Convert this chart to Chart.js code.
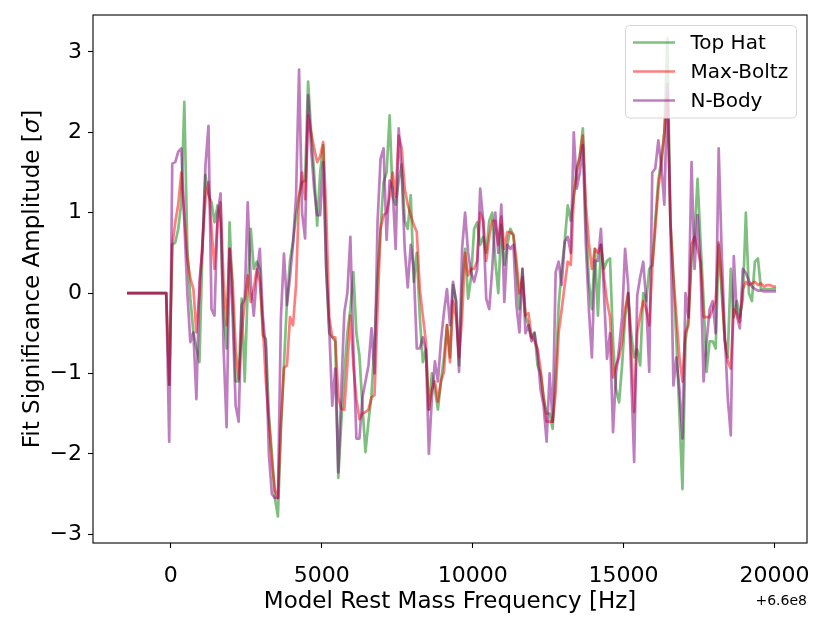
<!DOCTYPE html>
<html>
<head>
<meta charset="utf-8">
<script src="https://cdn.jsdelivr.net/npm/chart.js@4.4.1/dist/chart.umd.min.js"></script>
<style>
  html, body { margin: 0; padding: 0; background: #fff; }
  canvas { display: block; }
</style>
</head>
<body>
<canvas id="myChart" width="830" height="623"></canvas>
<script>
// frequencies are relative to the +6.6e8 Hz offset, one sample every 100 Hz
const FREQ_START = -1450;
const FREQ_STEP = 100;

const topHat = [
  0, 0, 0, 0, 0, 0, 0, 0, 0, 0, 0, 0, 0, 0,
  -1.14, 0.6, 0.63, 0.8, 1.13, 2.38, 0.55, -0.07, -0.49, -0.69,
  -0.86, 0.55, 1.47, 1.22, 1.13, 0.88, 1.09, 0.88, -0.28, -0.69,
  0.88, -0.07, -1.1, -1.1, -0.07, -1.1, 0.05, 0.8, 0.3, 0.39,
  0.3, -0.53, -0.57, -1.5, -2.0, -2.55, -2.78, -1.7, -0.9, -0.1,
  0.4, 0.64, 0.97, 1.2, 1.38, 1.4, 2.63, 2.0, 1.5, 0.84,
  1.5, 1.84, 0.3, -0.5, -0.55, -0.6, -2.3, -1.6, -1.0, -0.5,
  -0.2, 0.26, -0.5, -0.78, -1.4, -1.98, -1.6, -1.27, -0.6, 0.2,
  0.8, 1.38, 1.5, 2.21, 1.2, 1.1, 1.4, 1.6, 0.9, 0.8,
  1.22, 0.14, 0.5, -0.3, -0.86, -0.7, -1.45, -1.0, -1.2, -1.45,
  -1.1, -0.8, -0.4, -0.8, 0.1, -0.1, -0.9, 0.1, 0.55, -0.07,
  0.2, 0.8, 0.88, 0.6, 0.7, 0.5, 0.9, 1.0, 0.4, 0.0,
  0.85, 0.35, 0.6, 0.8, 0.72, 0.3, -0.2, 0.3, -0.28, -0.4,
  -0.55, -0.49, -0.9, -1.0, -1.3, -1.5, -1.5, -1.69, -1.0, -0.15,
  0.3, 0.64, 1.09, 0.9, 1.2, 1.55, 1.7, 2.05, 0.9, 0.14,
  -0.2, 0.55, -0.28, 0.6, 0.3, 0.4, 0.43, -0.6, -1.2, -1.36,
  -0.9, -0.3, 0.0, -0.5, -0.8, -0.7, -0.9, 0.0, -0.1, 0.3,
  0.35, 0.9, 1.4, 1.66, 2.0, 3.17, 0.9, 0.2, -0.61, -1.5,
  -2.44, -0.6, -0.3, 0.4, 0.7, 1.42, 0.63, -0.1, -0.98, -0.6,
  -0.6, -0.69, 0.6, 0.0, -0.57, -0.8, 0.3, -0.3, -0.1, -0.3,
  -0.07, 1.0, 0.0, -0.1, 0.39, 0.43, 0.05, 0.05, 0.05, 0.05,
  0.05, 0.05
];

const maxBoltz = [
  0, 0, 0, 0, 0, 0, 0, 0, 0, 0, 0, 0, 0, 0,
  -1.14, 0.6, 0.88, 1.11, 1.5, 0.97, 0.43, 0.18, 0.05, -0.49,
  0.0, 0.63, 1.17, 1.38, 0.8, 0.3, 0.88, 1.13, 0.14, -0.4,
  0.55, 0.14, -0.69, -1.07, -0.49, -0.11, 0.22, -0.11, 0.05, 0.3,
  0.14, -0.4, -1.1, -1.6, -2.1, -2.45, -2.55, -1.6, -0.93, -0.9,
  -0.3, -0.4, 0.1, 1.2, 1.5, 1.17, 2.21, 2.0, 1.8, 1.63,
  1.7, 1.88, 1.0, -0.3, -0.55, -0.55, -1.3, -1.44, -1.45, -0.9,
  -0.28, -0.9, -1.32, -1.57, -1.5, -1.48, -1.45, -1.3, -1.27, -0.2,
  0.8, 0.97, 1.0, 1.2, 1.5, 1.2, 1.96, 1.8, 1.3, 1.1,
  0.97, 0.85, 0.76, 0.05, -0.28, -0.6, -1.45, -1.2, -1.1, -1.35,
  -1.1, -0.98, -0.4, -0.86, -0.1, -0.3, -0.8, -0.3, 0.5, 0.22,
  0.3, 0.3, 0.4, 1.0, 0.9, 0.4, 0.7, 0.9, 0.9, 0.6,
  0.95, 0.55, 0.76, 0.76, 0.72, 0.4, 0.0, 0.2, -0.28, -0.25,
  -0.55, -0.6, -0.69, -0.95, -1.3, -1.6, -1.6, -1.6, -1.23, -0.49,
  -0.2, 0.1, 0.39, 0.35, 1.2, 1.5, 1.7, 1.96, 1.1, 0.63,
  0.3, 0.55, 0.5, 0.6, 0.2, -0.1, -0.3, -1.05, -0.9, -0.8,
  -0.6, -0.2, 0.0, -0.7, -1.48, -0.5, -0.28, -0.1, -0.2, -0.4,
  0.3, 0.8, 1.3, 1.6, 2.0, 2.5, 0.9, 0.2, -0.3, -0.8,
  -1.1, -0.49, -0.4, 0.6, 0.7, 0.55, 0.38, -0.3, -0.3, -0.3,
  -0.2, -0.1, 0.63, 0.14, -0.6, -0.85, -0.94, -0.2, -0.25, -0.36,
  0.05, 0.14, 0.1, 0.12, 0.14, 0.1, 0.12, 0.08, 0.1, 0.1,
  0.08, 0.08
];

const nBody = [
  0, 0, 0, 0, 0, 0, 0, 0, 0, 0, 0, 0, 0, 0,
  -1.85, 1.61, 1.63, 1.76, 1.8, 0.88, 0.0, -0.61, -0.49, -1.32,
  0.14, 0.55, 1.59, 2.08, -0.2, -0.28, 0.97, 1.24, -0.69, -1.67,
  0.55, -0.28, -1.4, -1.6, -0.15, -0.07, 1.13, 0.14, -0.28, 0.22,
  0.55, -0.28, -0.69, -2.0, -2.5, -2.55, -2.55, -0.3, 0.49, -0.15,
  0.2, 0.61, 1.2, 2.78, 1.0, 0.68, 2.46, 1.8, 1.3, 0.97,
  0.97, 1.63, 0.3, -0.44, -1.4, -0.94, -2.23, -1.2, -0.24, 0.0,
  0.7, -0.69, -1.81, -1.81, -1.3, -1.1, -0.9, -0.44, -1.0, 0.88,
  1.67, 1.8, 0.66, 1.4, 1.3, 0.55, 2.05, 1.5, 0.55, 0.07,
  0.6, 0.3, -0.69, -0.69, -0.55, -0.7, -2.0, -1.3, -0.85, -1.1,
  -0.6, -0.24, 0.05, -0.4, 0.14, -0.1, -0.98, 0.55, 1.0, 0.5,
  0.26, 0.14, 0.3, 1.3, 0.9, -0.07, -0.2, 0.3, 1.0, 0.5,
  1.1, -0.11, 0.6, 0.55, 0.6, -0.15, -0.49, 0.3, -0.5, -0.4,
  -0.6, -0.5, -0.75, -1.2, -1.4, -1.85, -1.0, -1.6, 0.26, 0.39,
  0.1, 0.64, 0.7, 0.5, 2.0, 1.3, 1.5, 1.84, 0.6, -0.2,
  -0.8, 0.4, 0.4, 0.8, 0.0, -0.82, -0.5, -1.73, -1.0, -0.69,
  -0.3, 0.55, 0.1, -1.0, -2.1, -0.03, 0.2, 0.39, -0.1, -0.98,
  1.5, 1.55, 1.9, 1.59, 1.1, 2.6, 0.9, -1.15, -0.8, -1.2,
  -1.81, 0.0, -0.3, 1.63, 0.3, 0.97, 0.3, -1.1, -0.6, -0.2,
  -0.1, -0.5, 1.8, 0.5, -0.5, -1.3, -1.77, 0.46, -0.28, -0.44,
  0.3, 0.25, 0.15, 0.08, 0.05, 0.03, 0.03, 0.02, 0.02, 0.02,
  0.02, 0.02
];

const xTicks = [0, 5000, 10000, 15000, 20000];
const yTicks = [-3, -2, -1, 0, 1, 2, 3];
const seriesNames = ["Top Hat", "Max-Boltz", "N-Body"];
const seriesColors = ["rgba(0, 128, 0, 0.5)", "rgba(255, 0, 0, 0.5)", "rgba(128, 0, 128, 0.5)"];

const freqs = topHat.map((_, i) => FREQ_START + i * FREQ_STEP);
const toPoints = (vals) => vals.map((v, i) => ({ x: freqs[i], y: v }));
const minus = (v) => (v < 0 ? "\u2212" + Math.abs(v) : String(v));

Chart.defaults.font.family = "'DejaVu Sans'";
Chart.defaults.color = "#000";

const FONT = "'DejaVu Sans'";
const LINE_W = 2.7;

// frame, legend box, axis titles and the offset label, matplotlib style
const decorations = {
  id: "decorations",
  afterDatasetsDraw(chart) {
    const { ctx, chartArea: a } = chart;
    ctx.save();
    ctx.strokeStyle = "#000";
    ctx.lineWidth = 1.1;
    ctx.strokeRect(a.left, a.top, a.right - a.left, a.bottom - a.top);

    // legend
    ctx.beginPath();
    ctx.roundRect(625.5, 25.5, 171, 92.5, 4);
    ctx.fillStyle = "rgba(255, 255, 255, 0.8)";
    ctx.fill();
    ctx.strokeStyle = "#d6d6d6";
    ctx.lineWidth = 1;
    ctx.stroke();
    ctx.font = "20px " + FONT;
    ctx.textBaseline = "middle";
    ctx.textAlign = "left";
    seriesNames.forEach((name, i) => {
      const y = 42.5 + i * 29;
      ctx.beginPath();
      ctx.moveTo(633, y);
      ctx.lineTo(675, y);
      ctx.strokeStyle = seriesColors[i];
      ctx.lineWidth = LINE_W;
      ctx.stroke();
      ctx.fillStyle = "#000";
      ctx.fillText(name, 690.5, y + 1);
    });
    ctx.restore();
  },
  afterDraw(chart) {
    const { ctx, chartArea: a } = chart;
    ctx.save();
    ctx.fillStyle = "#000";
    ctx.textBaseline = "alphabetic";

    ctx.font = "23px " + FONT;
    ctx.textAlign = "center";
    ctx.fillText("Model Rest Mass Frequency [Hz]", (a.left + a.right) / 2, 607.5);

    ctx.font = "14px " + FONT;
    ctx.textAlign = "right";
    ctx.fillText("+6.6e8", a.right, 605);

    // y title with an italic sigma
    const parts = [
      ["Fit Significance Amplitude [", "23px " + FONT],
      ["\u03c3", "italic 23px " + FONT],
      ["]", "23px " + FONT]
    ];
    let total = 0;
    parts.forEach((p) => { ctx.font = p[1]; total += ctx.measureText(p[0]).width; });
    ctx.translate(33, (a.top + a.bottom) / 2);
    ctx.rotate(-Math.PI / 2);
    ctx.textAlign = "left";
    ctx.textBaseline = "middle";
    let x = -total / 2;
    parts.forEach((p) => {
      ctx.font = p[1];
      ctx.fillText(p[0], x, 0);
      x += ctx.measureText(p[0]).width;
    });
    ctx.restore();
  }
};

const datasets = [topHat, maxBoltz, nBody].map((vals, i) => ({
  label: seriesNames[i],
  data: toPoints(vals),
  borderColor: seriesColors[i],
  borderWidth: LINE_W,
  borderJoinStyle: "round",
  pointRadius: 0,
  tension: 0,
  fill: false,
  order: 3 - i
}));

const chart = new Chart("myChart", {
  type: "line",
  data: { datasets: datasets },
  plugins: [decorations],
  options: {
    responsive: false,
    animation: false,
    layout: { padding: { left: 0, top: 15, right: 23, bottom: 0 } },
    plugins: {
      legend: { display: false },
      tooltip: { enabled: false }
    },
    scales: {
      x: {
        type: "linear",
        min: -2575,
        max: 21075,
        afterBuildTicks: (s) => { s.ticks = xTicks.map((v) => ({ value: v })); },
        afterFit: (s) => {
          s.height = 80;
          s.paddingLeft = 0;
          s.paddingRight = 0;
        },
        grid: { display: true, drawOnChartArea: false, drawTicks: true, tickLength: 5, tickColor: "#000", tickWidth: 1.1 },
        border: { display: false },
        ticks: {
          padding: 15,
          maxRotation: 0,
          font: { size: 22 },
          callback: (v) => String(v)
        }
      },
      y: {
        type: "linear",
        min: -3.11,
        max: 3.46,
        afterBuildTicks: (s) => { s.ticks = yTicks.map((v) => ({ value: v })); },
        afterFit: (s) => {
          s.width = 93;
          s.paddingTop = 0;
          s.paddingBottom = 0;
        },
        grid: { display: true, drawOnChartArea: false, drawTicks: true, tickLength: 5, tickColor: "#000", tickWidth: 1.1 },
        border: { display: false },
        ticks: {
          padding: 6,
          font: { size: 22 },
          callback: (v) => minus(v)
        }
      }
    }
  }
});
</script>
</body>
</html>
